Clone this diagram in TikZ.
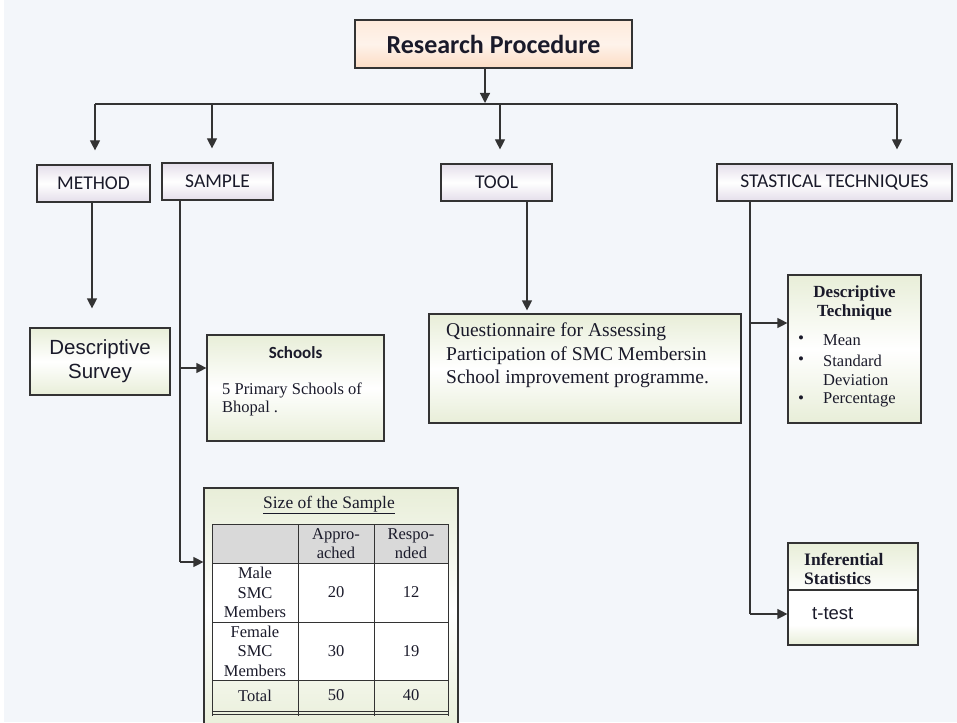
\documentclass[tikz,border=0pt]{standalone}
\usepackage{fontspec}
\setmainfont{Liberation Serif}
\newfontfamily\carl{Carlito}
\newfontfamily\arial{Liberation Sans}
\usetikzlibrary{arrows.meta}
\definecolor{bgc}{HTML}{F3F6FA}
\definecolor{linec}{HTML}{333333}
\definecolor{peach}{HTML}{FCDCC4}
\definecolor{lav}{HTML}{E4DEEA}
\definecolor{grn}{HTML}{E8EED8}
\definecolor{txt}{HTML}{1A1A2A}
\tikzset{
  base/.style={draw=linec, line width=1.2pt, inner sep=0pt, text=txt},
  rootbox/.style={base, top color=peach!60, bottom color=peach, middle color=peach!35},
  headbox/.style={base, top color=lav, bottom color=lav, middle color=white},
  greenbox/.style={base, top color=grn, bottom color=grn, middle color=white},
  conn/.style={draw=linec, line width=1.2pt},
  arr/.style={conn, -{Triangle[length=10pt,width=10pt]}},
  lbl/.style={inner sep=0pt, text=txt},
  headfont/.style={font=\carl\fontsize{19.5}{22}\selectfont},
}
\begin{document}
\begin{tikzpicture}[x=1pt,y=-1pt]
\useasboundingbox (0,0) rectangle (957,722);
\fill[bgc] (4,0) rectangle (957,722);

% root
\node[rootbox, minimum width=277pt, minimum height=48pt, font=\carl\bfseries\fontsize{26}{28}\selectfont] (rp) at (493.5,44) {Research Procedure};

% heads
\node[headbox, minimum width=113pt, minimum height=37pt, headfont] (method) at (93.5,183.5) {METHOD};
\node[headbox, minimum width=111pt, minimum height=37pt, headfont] (sample) at (217.5,181.5) {SAMPLE};
\node[headbox, minimum width=111pt, minimum height=37pt, headfont] (tool) at (496.5,182.5) {TOOL};
\node[headbox, minimum width=235pt, minimum height=37pt, headfont] (stat) at (834.5,182.5) {STASTICAL TECHNIQUES};

% method child
\node[greenbox, minimum width=140pt, minimum height=67pt, align=center, font=\arial\fontsize{20.5}{24}\selectfont] (survey) at (100,361.5) {Descriptive\\Survey};

% schools
\node[greenbox, minimum width=177pt, minimum height=106pt] (schools) at (295.5,388) {};
\node[lbl, font=\carl\bfseries\fontsize{17}{19}\selectfont] (schT) at (295.5,353) {Schools};
\node[lbl, anchor=north west, align=left, font=\fontsize{16.5}{18}\selectfont] (schB) at (222,383) {5 Primary Schools of\\Bhopal .};

% size of the sample
\node[greenbox, minimum width=254pt, minimum height=245pt] (size) at (331,610.5) {};
\node[lbl, font=\fontsize{17.5}{19}\selectfont] (sizeT) at (329,505) {\underline{Size of the Sample}};
\fill[white] (212,563) rectangle (448,680);
\fill[black!15] (212,524) rectangle (448,563);
\draw[conn, line width=1pt] (212,524) -- (448,524) (212,563) -- (448,563) (212,622) -- (448,622) (212,680) -- (448,680) (212,711) -- (448,711) (212,714) -- (448,714);
\draw[conn, line width=1pt] (212,524) -- (212,716) (298,524) -- (298,716) (374,524) -- (374,716) (448,524) -- (448,716);
\tikzset{cell/.style={lbl, align=center, font=\fontsize{16.5}{19.5}\selectfont}}
\node[cell] (h1) at (336,543.5) {Appro-\\ached};
\node[cell] (h2) at (411,543.5) {Respo-\\nded};
\node[cell] (r1) at (255,592.5) {Male\\SMC\\Members};
\node[cell] (r1a) at (336,592.5) {20};
\node[cell] (r1b) at (411,592.5) {12};
\node[cell] (r2) at (255,651) {Female\\SMC\\Members};
\node[cell] (r2a) at (336,651) {30};
\node[cell] (r2b) at (411,651) {19};
\node[cell] (r3) at (255,695.5) {Total};
\node[cell] (r3a) at (336,695.5) {50};
\node[cell] (r3b) at (411,695.5) {40};

% questionnaire
\node[greenbox, minimum width=312pt, minimum height=109pt] (quest) at (585,368.5) {};
\node[lbl, anchor=north west, align=left, font=\fontsize{19.5}{23.5}\selectfont] (questT) at (446,323) {Questionnaire for Assessing\\Participation of SMC Membersin\\School improvement programme.};

% descriptive technique
\node[greenbox, minimum width=133pt, minimum height=148pt] (desc) at (854.5,349) {};
\node[lbl, align=center, font=\bfseries\fontsize{17}{18.5}\selectfont] (descT) at (854.5,303) {Descriptive\\Technique};
\tikzset{bul/.style={lbl, font=\fontsize{17}{18}\selectfont}, itm/.style={lbl, anchor=west, font=\fontsize{16.5}{18}\selectfont}}
\node[bul] (b1) at (801,340) {•};
\node[bul] (b2) at (801,361) {•};
\node[bul] (b4) at (801,400) {•};
\node[itm] (i1) at (823,340) {Mean};
\node[itm] (i2) at (823,361) {Standard};
\node[itm] (i3) at (823,380) {Deviation};
\node[itm] (i4) at (823,400) {Percentage};

% inferential
\node[greenbox, minimum width=130pt, minimum height=102pt] (inf) at (853,594) {};
\fill[white] (788,590) rectangle (918,625);
\shade[top color=white, bottom color=grn] (788,625) rectangle (918,645);
\draw[base, fill=none] (788,543) rectangle (918,645);
\draw[conn] (inf.west |- 0,590) -- (inf.east |- 0,590);
\node[lbl, anchor=north west, align=left, font=\bfseries\fontsize{17.5}{18.5}\selectfont] (infT) at (804,553) {Inferential\\Statistics};
\node[lbl, anchor=west, font=\arial\fontsize{18.5}{20}\selectfont] (ttest) at (812,614) {t-test};

% connectors: top
\coordinate (j0) at (485,103);
\coordinate (bl) at (95,104);
\coordinate (br) at (897,104);
\draw[arr] (rp.south -| j0) -- (j0);
\draw[conn] (bl) -- (br);
\coordinate (xs) at (212,104);
\coordinate (xt) at (500,104);
\draw[arr, shorten >=14pt] (bl) -- (bl |- method.north);
\draw[arr, shorten >=14pt] (xs) -- (xs |- sample.north);
\draw[arr, shorten >=14pt] (xt) -- (xt |- tool.north);
\draw[arr, shorten >=14pt] (br) -- (br |- stat.north);

% method -> survey
\coordinate (mx) at (92,0);
\draw[arr, shorten >=19pt] (method.south -| mx) -- (mx |- survey.north);

% sample
\coordinate (sm) at (180,368);
\coordinate (sb) at (180,562);
\draw[conn] (sample.south -| sb) -- (sb);
\draw[arr] (sm) -- (sm -| schools.west);
\draw[arr] (sb) -- (sb -| size.west);

% tool
\coordinate (tx) at (527,0);
\draw[arr, shorten >=3pt] (tool.south -| tx) -- (tx |- quest.north);

% stat
\coordinate (s1) at (750,323);
\coordinate (s2) at (750,614);
\draw[conn] (stat.south -| s2) -- (s2);
\draw[arr] (s1) -- (s1 -| desc.west);
\draw[arr] (s2) -- (s2 -| inf.west);
\end{tikzpicture}
\end{document}
